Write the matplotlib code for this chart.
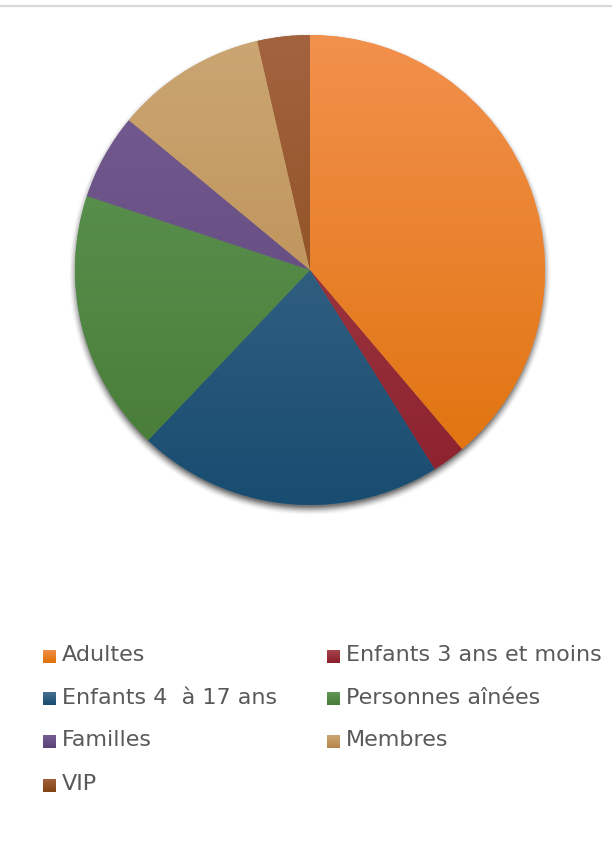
import numpy as np
import matplotlib
matplotlib.use("Agg")
import matplotlib.pyplot as plt
from matplotlib.colors import LinearSegmentedColormap
from matplotlib.patches import Rectangle

# shares (percent)
labels = ["Adultes", "Enfants 3 ans et moins", "Enfants 4  à 17 ans",
          "Personnes aînées", "Familles", "Membres", "VIP"]
values = [38.8, 2.3, 21.0, 18.0, 5.9, 10.4, 3.6]

# gradient colours per slice, top -> bottom
top_colors = ["#F2914D", "#AA4750", "#47708F", "#619857", "#765E93", "#CBA672", "#A3633F"]
bot_colors = ["#DF7109", "#8A202C", "#184C70", "#467A35", "#5A4275", "#B6864A", "#834513"]

W, H = 612, 851
fig = plt.figure(figsize=(W / 100, H / 100), dpi=100)
ax = fig.add_axes([0, 0, 1, 1])

cx, cy, R = 310, H - 270, 235

# soft shadow under the pie
n = 400
xs = np.linspace(cx - R - 30, cx + R + 30, n)
ys = np.linspace(cy - R - 30, cy + R + 30, n)
XX, YY = np.meshgrid(xs, ys)
d = np.sqrt((XX - cx) ** 2 + (YY - (cy - 4)) ** 2) - R
alpha = np.clip(1 - (d + 2) / 9, 0, 1) ** 1.6 * 0.55
shadow = np.zeros((n, n, 4))
shadow[..., 3] = alpha
ax.imshow(shadow, extent=(xs[0], xs[-1], ys[0], ys[-1]), origin="lower",
          zorder=1, interpolation="bilinear")

wedges, _ = ax.pie(values, center=(cx, cy), radius=R, startangle=90,
                   counterclock=False, colors=top_colors,
                   wedgeprops=dict(linewidth=0, zorder=2))

grad = np.linspace(0, 1, 256).reshape(-1, 1)
for w, c0, c1 in zip(wedges, top_colors, bot_colors):
    cmap = LinearSegmentedColormap.from_list("g", [c1, c0])
    im = ax.imshow(grad, cmap=cmap, origin="lower", aspect="auto",
                   extent=(cx - R, cx + R, cy - R, cy + R), zorder=3)
    im.set_clip_path(w)

# legend, row-wise in two columns
col_x = [43, 327]
row_y = [656, 698.5, 741.5, 785]
s = 13
for i, (lab, c0, c1) in enumerate(zip(labels, top_colors, bot_colors)):
    x = col_x[i % 2]
    y = H - row_y[i // 2]
    sq = Rectangle((x, y - s / 2), s, s, linewidth=0, facecolor=c1, zorder=4)
    ax.add_patch(sq)
    cmap = LinearSegmentedColormap.from_list("g", [c1, c0])
    im = ax.imshow(grad, cmap=cmap, origin="lower", aspect="auto",
                   extent=(x, x + s, y - s / 2, y + s / 2), zorder=5)
    im.set_clip_path(sq)
    ax.text(x + 19, y + 1, lab, fontsize=16, color="#595959", va="center",
            ha="left", family="DejaVu Sans", zorder=6)

ax.plot([0, W], [H - 6, H - 6], color="#D9D9D9", linewidth=1.6, zorder=6)

ax.set_xlim(0, W)
ax.set_ylim(0, H)
ax.set_aspect("auto")
ax.axis("off")

fig.savefig("out.png", dpi=100)
